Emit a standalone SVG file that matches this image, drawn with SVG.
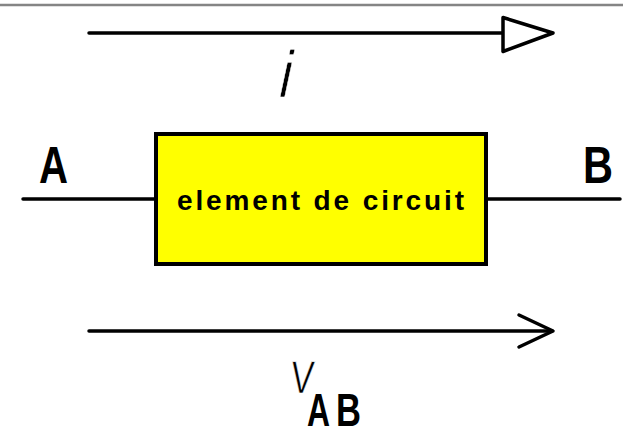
<svg xmlns="http://www.w3.org/2000/svg" width="623" height="426" viewBox="0 0 623 426">
<style>
.wire{stroke:#000;stroke-width:3.5;fill:none;stroke-linecap:round;stroke-linejoin:round}
.bold{font-family:"Liberation Sans",Arial,sans-serif;font-weight:bold;fill:#000}
.thin{font-family:"Liberation Sans",Arial,sans-serif;fill:#000;stroke:#fff;stroke-width:0.6}
</style>
<rect x="0" y="0" width="623" height="426" fill="#fff"/>
<line x1="0" y1="5" x2="623" y2="5" stroke="#858585" stroke-width="2.5"/>
<g id="connectors">
<g id="current-arrow">
<line class="wire" x1="89" y1="33" x2="503" y2="33"/>
<polygon class="wire" points="503,17.5 553,33 503,51.5" style="fill:#fff"/>
</g>
<line id="wire-A" class="wire" x1="23" y1="199" x2="156" y2="199"/>
<line id="wire-B" class="wire" x1="486" y1="199" x2="620" y2="199"/>
<g id="voltage-arrow">
<line class="wire" x1="89" y1="331" x2="552" y2="331"/>
<polyline class="wire" points="519,315 553,331 519,347"/>
</g>
</g>
<g id="element">
<rect x="156" y="134" width="330" height="130" fill="#ffff00" stroke="#000" stroke-width="4"/>
<text class="bold" x="177" y="209.5" font-size="28" textLength="287" lengthAdjust="spacing">element de circuit</text>
</g>
<g id="label-A"><text class="bold" x="39" y="183" font-size="52" textLength="29" lengthAdjust="spacingAndGlyphs">A</text></g>
<g id="label-B"><text class="bold" x="583" y="183" font-size="52" textLength="30" lengthAdjust="spacingAndGlyphs">B</text></g>
<g id="label-i"><text class="thin" transform="translate(276.5,97) skewX(-12) scale(0.8,1)" x="0" y="0" font-size="66">i</text></g>
<g id="label-VAB">
<text class="thin" transform="translate(289.5,393) skewX(-5) scale(0.75,1)" x="0" y="0" font-size="46">V</text>
<text class="bold" x="307" y="425.5" font-size="46" textLength="23" lengthAdjust="spacingAndGlyphs">A</text>
<text class="bold" x="336" y="425.5" font-size="46" textLength="25" lengthAdjust="spacingAndGlyphs">B</text>
</g>
</svg>
